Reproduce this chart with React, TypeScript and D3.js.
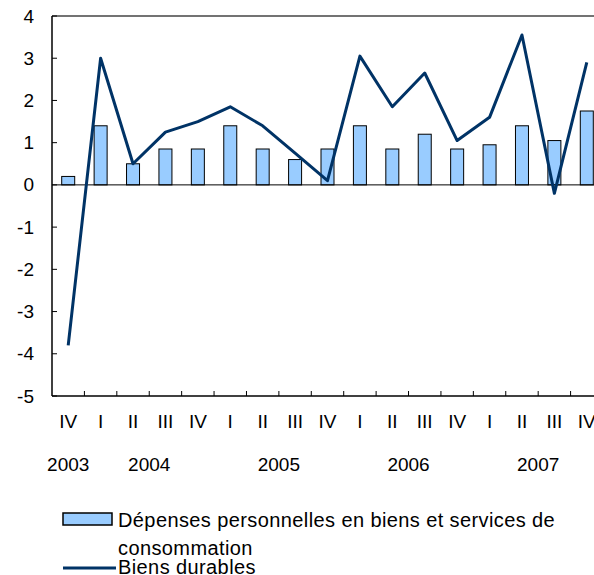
import React from "react";
import * as d3 from "d3";

const quarters = ["IV", "I", "II", "III", "IV", "I", "II", "III", "IV", "I", "II", "III", "IV", "I", "II", "III", "IV"];
const years = [
  { label: "2003", from: 0, to: 0 },
  { label: "2004", from: 1, to: 4 },
  { label: "2005", from: 5, to: 8 },
  { label: "2006", from: 9, to: 12 },
  { label: "2007", from: 13, to: 16 },
];
const depenses = [0.2, 1.4, 0.5, 0.85, 0.85, 1.4, 0.85, 0.6, 0.85, 1.4, 0.85, 1.2, 0.85, 0.95, 1.4, 1.05, 1.75];
const durables = [-3.8, 3.0, 0.5, 1.25, 1.5, 1.85, 1.4, 0.75, 0.1, 3.05, 1.85, 2.65, 1.05, 1.6, 3.55, -0.2, 2.9];
const yTicks = [4, 3, 2, 1, 0, -1, -2, -3, -4, -5];

const W = 594;
const H = 575;
const left = 52;
const right = 603;
const top = 16;
const bottom = 396;
const font = "'Liberation Sans', Arial, sans-serif";

export default function App() {
  const idx = quarters.map((_, i) => i);
  const x = d3.scaleBand<number>().domain(idx).range([left, right]).paddingInner(0).paddingOuter(0);
  const y = d3.scaleLinear().domain([-5, 4]).range([bottom, top]);
  const bw = 13;
  const cx = (i: number) => (x(i) as number) + x.bandwidth() / 2;
  const line = d3
    .line<number>()
    .x((_, i) => cx(i))
    .y((d) => y(d));

  return (
    <svg width={W} height={H} style={{ position: "absolute", left: 0, top: 0, background: "#fff" }}>
      {/* top frame */}
      <line x1={left} x2={W} y1={top} y2={top} stroke="#444" strokeWidth={1.5} />
      {/* bars */}
      {depenses.map((v, i) => (
        <rect
          key={i}
          x={cx(i) - bw / 2}
          y={y(Math.max(v, 0))}
          width={bw}
          height={Math.abs(y(v) - y(0))}
          fill="#99CCFF"
          stroke="#000"
          strokeWidth={1}
        />
      ))}
      {/* zero line */}
      <line x1={left} x2={W} y1={y(0)} y2={y(0)} stroke="#000" strokeWidth={1} />
      {/* durables line */}
      <path d={line(durables) || ""} fill="none" stroke="#003366" strokeWidth={3} strokeLinejoin="round" />
      {/* y axis */}
      <line x1={left} x2={left} y1={top} y2={bottom} stroke="#000" strokeWidth={1.5} />
      {yTicks.map((t) => (
        <g key={t}>
          <line x1={left} x2={left + 5} y1={y(t)} y2={y(t)} stroke="#000" strokeWidth={1} />
          <text x={left - 18} y={y(t)} textAnchor="end" dominantBaseline="central" fontFamily={font} fontSize={19} fill="#000">
            {t}
          </text>
        </g>
      ))}
      {/* x axis */}
      <line x1={left} x2={W} y1={bottom} y2={bottom} stroke="#000" strokeWidth={1.5} />
      {idx.slice(1).map((i) => (
        <line key={i} x1={x(i) as number} x2={x(i) as number} y1={bottom} y2={bottom - 5} stroke="#000" strokeWidth={1} />
      ))}
      {quarters.map((q, i) => (
        <text key={i} x={cx(i)} y={421} textAnchor="middle" dominantBaseline="central" fontFamily={font} fontSize={19} fill="#000">
          {q}
        </text>
      ))}
      {years.map((yr) => (
        <text
          key={yr.label}
          x={(cx(yr.from) + cx(yr.to)) / 2}
          y={464}
          textAnchor="middle"
          dominantBaseline="central"
          fontFamily={font}
          fontSize={19}
          fill="#000"
        >
          {yr.label}
        </text>
      ))}
      {/* legend */}
      <rect x={63} y={513} width={49} height={12} fill="#99CCFF" stroke="#000" strokeWidth={1.5} />
      <text x={118} y={527} fontFamily={font} fontSize={20} letterSpacing={0.4} fill="#000">
        Dépenses personnelles en biens et services de
      </text>
      <text x={118} y={555} fontFamily={font} fontSize={20} letterSpacing={0.4} fill="#000">
        consommation
      </text>
      <line x1={63} x2={116} y1={568} y2={568} stroke="#003366" strokeWidth={3} />
      <text x={118} y={574} fontFamily={font} fontSize={20} letterSpacing={0.4} fill="#000">
        Biens durables
      </text>
    </svg>
  );
}
